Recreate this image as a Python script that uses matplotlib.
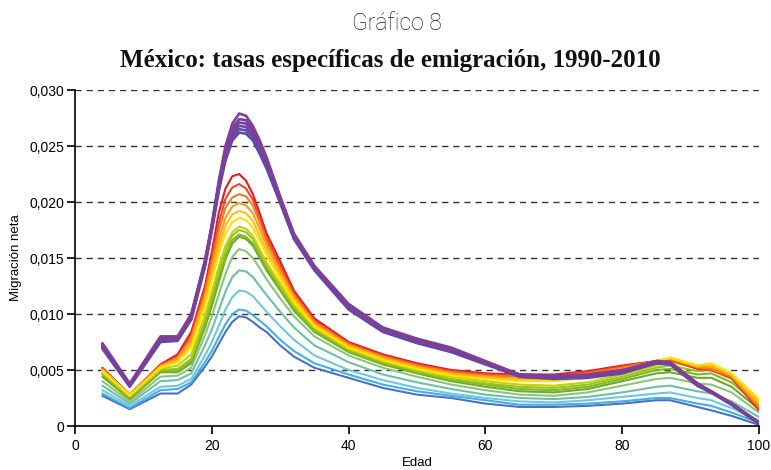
import matplotlib
matplotlib.use("Agg")
import matplotlib.pyplot as plt
from matplotlib.ticker import FixedLocator, FuncFormatter

plt.rcParams["font.family"] = ["Liberation Sans", "DejaVu Sans"]

# Edades (eje x)
edades = [4, 8, 12.5, 15, 17, 19, 20, 21, 22, 23, 24, 25, 26, 27, 28, 30, 32, 35,
          40, 45, 50, 55, 60, 65, 70, 75, 80, 85, 87, 91, 93, 96, 100]

# Tasas específicas de emigración (x 1e-4), una lista por curva
azul      = [27, 15, 29, 29, 37, 53, 62, 73, 84, 93, 98, 97, 93, 88, 84, 72, 62, 52, 43, 34, 28, 25, 20, 17, 17, 18, 20, 23, 23, 17, 14, 9, 1]
celeste   = [29, 16, 32, 33, 39, 57, 67, 79, 91, 100, 104, 103, 99, 94, 89, 77, 67, 56, 46, 37, 31, 27, 23, 19, 19, 20, 22, 25, 25, 20, 18, 12, 3]
cian      = [32, 18, 35, 36, 42, 63, 75, 89, 104, 115, 121, 120, 116, 109, 102, 89, 77, 63, 50, 41, 34, 29, 25, 22, 21, 23, 26, 29, 30, 25, 23, 16, 5]
turquesa  = [36, 20, 40, 41, 47, 72, 86, 103, 120, 133, 139, 138, 133, 125, 117, 102, 88, 72, 57, 46, 39, 33, 28, 25, 24, 26, 30, 35, 36, 31, 29, 22, 8]
verde_cl  = [40, 22, 44, 45, 52, 81, 98, 117, 136, 151, 158, 156, 150, 141, 131, 114, 98, 80, 63, 52, 44, 37, 32, 28, 27, 30, 36, 42, 43, 38, 37, 30, 12]
verde_3   = [44, 24, 48, 48, 56, 88, 107, 128, 149, 163, 169, 167, 161, 150, 139, 121, 103, 84, 66, 55, 47, 40, 35, 31, 30, 33, 40, 47, 48, 43, 43, 35, 15]
verde_2   = [46, 25, 49, 50, 58, 91, 111, 132, 152, 166, 171, 169, 163, 152, 141, 123, 105, 85, 67, 56, 48, 41, 37, 33, 32, 35, 42, 50, 51, 46, 47, 39, 18]
verde_1   = [47, 26, 50, 51, 60, 94, 115, 137, 157, 170, 175, 173, 167, 155, 144, 125, 107, 87, 68, 57, 49, 42, 38, 35, 34, 37, 44, 52, 54, 49, 50, 42, 20]
lima      = [48, 27, 51, 54, 64, 99, 120, 142, 161, 173, 178, 176, 170, 158, 146, 127, 108, 88, 69, 58, 50, 44, 40, 37, 36, 39, 46, 54, 57, 52, 53, 45, 22]
amarillo  = [49, 27, 52, 57, 70, 107, 130, 153, 172, 182, 186, 184, 177, 165, 152, 131, 111, 89, 70, 59, 51, 45, 42, 40, 40, 43, 49, 57, 61, 54, 56, 47, 24]
ambar     = [50, 28, 53, 58, 73, 111, 135, 159, 179, 189, 192, 190, 183, 170, 156, 134, 113, 90, 71, 60, 52, 46, 43, 41, 41, 44, 50, 58, 61, 54, 55, 46, 21]
naranja_c = [50, 28, 53, 60, 76, 115, 140, 166, 186, 196, 199, 197, 190, 176, 161, 137, 115, 91, 72, 61, 53, 47, 44, 42, 42, 45, 51, 58, 60, 53, 53, 45, 19]
naranja   = [51, 28, 54, 61, 79, 119, 146, 174, 195, 204, 207, 205, 197, 182, 165, 140, 117, 93, 73, 62, 54, 48, 45, 44, 44, 47, 52, 58, 60, 52, 51, 44, 17]
rojo_nar  = [51, 28, 54, 62, 81, 122, 150, 181, 203, 213, 216, 212, 202, 186, 168, 143, 119, 94, 74, 63, 55, 49, 46, 45, 45, 48, 53, 58, 59, 52, 50, 43, 15]
rojo      = [52, 28, 55, 64, 84, 125, 155, 190, 212, 223, 225, 219, 207, 190, 172, 147, 121, 96, 75, 64, 56, 50, 47, 46, 46, 49, 54, 58, 59, 51, 50, 43, 14]
morado_6  = [69, 35, 75, 76, 95, 142, 174, 209, 237, 255, 262, 261, 255, 243, 230, 199, 167, 139, 104, 84, 74, 66, 55, 44, 42, 43, 47, 56, 55, 36, 30, 19, 2]
morado_5  = [70, 36, 76, 77, 96, 144, 176, 211, 240, 258, 265, 264, 258, 246, 232, 200, 168, 140, 105, 85, 75, 67, 56, 44, 43, 44, 48, 56, 55, 36, 30, 19, 2]
morado_4  = [71, 36, 77, 77, 97, 145, 177, 213, 243, 261, 268, 267, 260, 248, 234, 202, 169, 141, 106, 85, 75, 67, 56, 45, 43, 44, 48, 57, 56, 37, 30, 20, 3]
morado_3  = [72, 37, 78, 78, 98, 146, 178, 215, 245, 264, 271, 270, 263, 250, 236, 203, 170, 142, 107, 86, 76, 68, 57, 45, 44, 45, 49, 57, 56, 37, 31, 20, 3]
morado_2  = [73, 37, 79, 79, 99, 147, 179, 216, 247, 266, 274, 273, 265, 252, 238, 204, 171, 142, 108, 87, 77, 69, 57, 46, 44, 45, 49, 58, 57, 38, 31, 20, 3]
morado_1  = [74, 38, 80, 80, 100, 148, 180, 218, 250, 270, 279, 277, 268, 255, 240, 205, 172, 143, 109, 88, 78, 70, 58, 46, 45, 46, 50, 58, 57, 38, 31, 20, 3]

series = [azul, celeste, cian, turquesa, verde_cl, verde_3, verde_2, verde_1, lima,
          rojo, rojo_nar, naranja, naranja_c, ambar, amarillo,
          morado_6, morado_5, morado_4, morado_3, morado_2, morado_1]
colores = ["#4a73bd", "#44aee6", "#72c6de", "#6fbfa7", "#8cc47c", "#6aab2e", "#7fb826",
           "#9bc31e", "#c2d300", "#e5191f", "#ee4823", "#f47a20", "#f9a11b", "#fdc10f",
           "#ffe200", "#5a4ea6", "#634aa3", "#6c46a0", "#74439d", "#7b409b", "#823d98"]

yticks = [0, 0.005, 0.010, 0.015, 0.020, 0.025, 0.030]
xticks = [0, 20, 40, 60, 80, 100]

fig = plt.figure(figsize=(7.71, 4.70), dpi=100)
ax = fig.add_axes([75/771, 1-426/470, (759-75)/771, (426-90)/470])

for i, (vals, c) in enumerate(zip(series, colores)):
    lw = 1.9 if i >= 15 else 1.5
    ax.plot(edades, [v/10000 for v in vals], color=c, lw=lw, solid_joinstyle="round",
            solid_capstyle="round")

ax.set_xlim(0, 100)
ax.set_ylim(0, 0.030)
ax.xaxis.set_major_locator(FixedLocator(xticks))
ax.yaxis.set_major_locator(FixedLocator(yticks))
ax.yaxis.set_major_formatter(FuncFormatter(lambda v, p: "0" if v == 0 else f"{v:.3f}".replace(".", ",")))
for y in yticks[1:]:
    ax.axhline(y, color="#333333", lw=1.0, ls=(0, (4.5, 3.5)), zorder=0)
for s in ["top", "right"]:
    ax.spines[s].set_visible(False)
for s in ["left", "bottom"]:
    ax.spines[s].set_linewidth(1.2)
ax.tick_params(axis="both", labelsize=10, length=6, width=1.2, colors="black")
ax.tick_params(axis="y", pad=2)
ax.set_ylabel("Migración neta", fontsize=9.5, labelpad=5)
ax.set_xlabel("Edad", fontsize=9.5, labelpad=3)

fig.text(397/771, 1-24/470, "Gráfico 8", ha="center", va="center", fontsize=16.5,
         family="Roboto", fontweight="light", color="#222222")
fig.text(390/771, 1-60/470, "México: tasas específicas de emigración, 1990-2010", ha="center",
         va="center", fontsize=18, family="Liberation Serif", fontweight="bold", color="#111111")

fig.savefig("out.png", dpi=100)
